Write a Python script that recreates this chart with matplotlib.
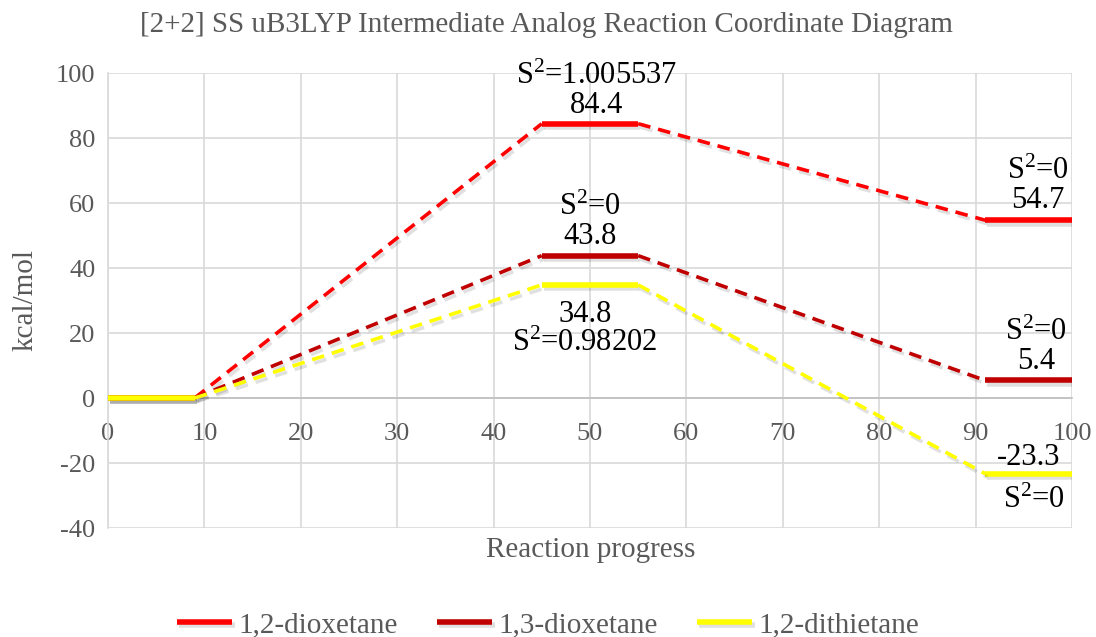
from matplotlib import pyplot as plt
import matplotlib.patheffects as pe
import numpy as np

plt.rcParams.update({
    'font.family': 'Liberation Serif',
    'mathtext.fontset': 'custom',
    'mathtext.rm': 'Liberation Serif',
    'mathtext.it': 'Liberation Serif:italic',
    'mathtext.bf': 'Liberation Serif:bold',
    'axes.unicode_minus': False,
})

# ------------------------------ data ------------------------------ #

names = ['1,2-dioxetane', '1,3-dioxetane', '1,2-dithietane']
colors = ['#FF0000', '#C00000', '#FFFF00']
# reactant, intermediate, product energies (kcal/mol)
energies = [
    [0, 84.4, 54.7],
    [0, 43.8, 5.4],
    [0, 34.8, -23.3],
]
level_start = [0, 45, 91]
level_end = [9, 55, 100]
s2_mid = ['1.005537', '0', '0.98202']
s2_end = ['0', '0', '0']

gray = '#595959'

fig = plt.figure(figsize=(10.96, 6.37), dpi=100)
ax = fig.add_axes([0.0985, 0.1711, 0.8796, 0.7143])

shadow = [pe.SimpleLineShadow(offset=(1.5, -2.5), alpha=0.12, shadow_color='k'),
          pe.Normal()]

for name, col, e in zip(names, colors, energies):
    # flat levels
    for i in range(len(e)):
        ax.plot([level_start[i], level_end[i]], [e[i], e[i]], color=col,
                lw=4, solid_capstyle='butt', path_effects=shadow, zorder=3,
                label=name if i == 0 else None)
    # dashed connectors
    for i in range(len(e) - 1):
        ax.plot([level_end[i], level_start[i + 1]], [e[i], e[i + 1]],
                color=col, lw=2.6, ls=(0, (3.5, 2.2)), path_effects=shadow,
                zorder=3)

# labels
ann = dict(ha='center', fontsize=22, color='black', linespacing=1.0)
e = energies[0]
ax.text(50.7, e[1] + 1.0, f'S$^2$={s2_mid[0]}\n{e[1]:.1f}', va='bottom', **ann)
ax.text(96.5, e[2] + 1.5, f'S$^2$={s2_end[0]}\n{e[2]:.1f}', va='bottom', **ann)
e = energies[1]
ax.text(50, e[1] + 1.5, f'S$^2$={s2_mid[1]}\n{e[1]:.1f}', va='bottom', **ann)
ax.text(96.3, e[2] + 1.5, f'S$^2$={s2_end[1]}\n{e[2]:.1f}', va='bottom', **ann)
e = energies[2]
ax.text(49.5, e[1] - 4.5, f'{e[1]:.1f}\nS$^2$={s2_mid[2]}', va='top', **ann)
ax.text(95.5, e[2] + 0.4, f'{e[2]:.1f}', va='bottom', **ann)
ax.text(96, e[2] - 3.8, f'S$^2$={s2_end[2]}', va='top', **ann)

# axes styling
ax.set_xlim(0, 100)
ax.set_ylim(-40, 100)
ax.set_xticks(np.arange(0, 101, 10))
ax.set_yticks(np.arange(-40, 101, 20))
ax.grid(True, color='#d9d9d9', lw=1.2)
ax.set_axisbelow(True)
for s in ['top', 'right']:
    ax.spines[s].set_visible(False)
ax.spines['bottom'].set_position(('data', 0))
ax.spines['bottom'].set_color('#bfbfbf')
ax.spines['bottom'].set_linewidth(1.2)
ax.spines['left'].set_color('#d9d9d9')
ax.spines['left'].set_linewidth(1.2)
ax.tick_params(length=0, labelsize=19, labelcolor=gray)
ax.tick_params(axis='y', pad=9)
ax.tick_params(axis='x', pad=18)

fig.text(0.023, 0.529, 'kcal/mol', fontsize=21, color=gray, rotation=90,
         ha='center', va='center')
fig.text(0.539, 0.137, 'Reaction progress', fontsize=21, color=gray,
         ha='center', va='center')
fig.text(0.499, 0.961, '[2+2] SS uB3LYP Intermediate Analog Reaction Coordinate Diagram',
         fontsize=21, color=gray, ha='center', va='center')

leg = fig.legend(loc='center', bbox_to_anchor=(0.5, 0.019), ncol=3,
                 frameon=False, fontsize=21, handlelength=1.9,
                 columnspacing=1.35, handletextpad=0.2)
for t in leg.get_texts():
    t.set_color(gray)

fig.savefig('out.png', dpi=100)
